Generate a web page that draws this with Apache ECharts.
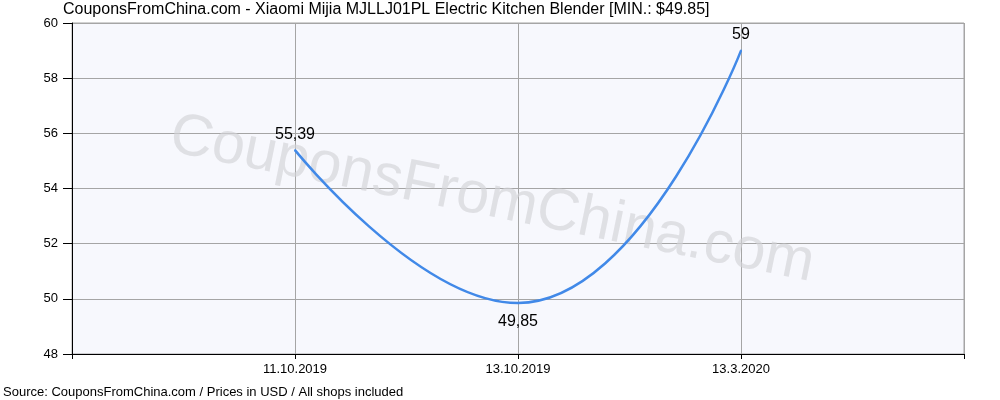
<!DOCTYPE html>
<html><head><meta charset="utf-8">
<script src="https://cdn.jsdelivr.net/npm/echarts@6/dist/echarts.min.js"></script>
<style>html,body{margin:0;padding:0;background:#fff}#c{width:1000px;height:400px}</style>
</head><body><div id="c"></div>
<script>
var categories = ['', '11.10.2019', '13.10.2019', '13.3.2020', ''];
var prices = [null, 55.39, 49.85, 59, null];
var labelPositions = [null, 'top', 'bottom', 'top', null];
var yTicks = {min: 48, max: 60, interval: 2};
var titleText = 'CouponsFromChina.com - Xiaomi Mijia MJLLJ01PL Electric Kitchen Blender [MIN.: $49.85]';
var footerText = 'Source: CouponsFromChina.com / Prices in USD / All shops included';
var watermark = 'CouponsFromChina.com';

var font = '"Liberation Sans", Arial, sans-serif';
var chart = echarts.init(document.getElementById('c'), null, {renderer: 'canvas'});
var seriesData = prices.map(function (v, i) {
  if (v === null) return null;
  var pos = labelPositions[i];
  return {value: v, label: {position: pos, distance: pos === 'top' ? 7 : 10}};
});
chart.setOption({
  backgroundColor: '#ffffff',
  animation: false,
  title: [
    {text: titleText, left: 63, top: 2, padding: 0, textStyle: {fontFamily: font, fontSize: 16, fontWeight: 'normal', color: '#000'}},
    {text: footerText, left: 3, top: 386, padding: 0, textStyle: {fontFamily: font, fontSize: 13, fontWeight: 'normal', color: '#000'}}
  ],
  graphic: [{
    type: 'text', z: 1, x: 492, y: 200, rotation: -0.2,
    style: {text: watermark, font: '59px ' + font, fill: 'rgba(210,210,215,0.65)', align: 'center', verticalAlign: 'middle'}
  }],
  grid: {left: 72, right: 36, top: 23, bottom: 46, show: true, backgroundColor: '#f7f8fd', borderColor: '#a5a5a5', borderWidth: 1},
  xAxis: {
    type: 'category', data: categories, boundaryGap: false,
    axisLine: {lineStyle: {color: '#000', width: 1}},
    axisTick: {show: true, length: 5, lineStyle: {color: '#000'}},
    axisLabel: {color: '#000', fontFamily: font, fontSize: 13, margin: 9},
    splitLine: {show: true, lineStyle: {color: '#a5a5a5', width: 1}}
  },
  yAxis: {
    type: 'value', min: yTicks.min, max: yTicks.max, interval: yTicks.interval,
    axisLine: {show: true, lineStyle: {color: '#000', width: 1}},
    axisTick: {show: true, length: 9, lineStyle: {color: '#000'}},
    axisLabel: {color: '#000', fontFamily: font, fontSize: 13, margin: 14},
    splitLine: {show: true, lineStyle: {color: '#a5a5a5', width: 1}}
  },
  series: [{
    type: 'line', data: seriesData, smooth: 0.5, z: 3,
    showSymbol: true, symbol: 'circle', symbolSize: 2,
    itemStyle: {color: '#4189e8'},
    lineStyle: {color: '#4189e8', width: 2.5},
    label: {show: true, color: '#000', fontFamily: font, fontSize: 16,
      formatter: function (p) { return String(p.value).replace('.', ','); }}
  }]
});
</script></body></html>
